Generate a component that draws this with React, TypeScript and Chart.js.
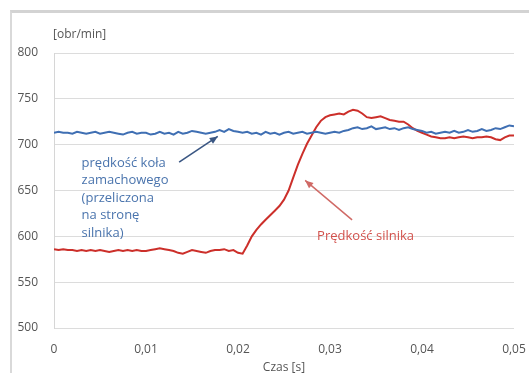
import React, { useEffect, useRef } from 'react';
import { Chart, registerables } from 'chart.js';
Chart.register(...registerables);

// time samples [s], every 0.0005 s
const times: number[] = [
  0, 0.0005, 0.001, 0.0015, 0.002, 0.0025, 0.003, 0.0035, 0.004, 0.0045,
  0.005, 0.0055, 0.006, 0.0065, 0.007, 0.0075, 0.008, 0.0085, 0.009, 0.0095,
  0.01, 0.0105, 0.011, 0.0115, 0.012, 0.0125, 0.013, 0.0135, 0.014, 0.0145,
  0.015, 0.0155, 0.016, 0.0165, 0.017, 0.0175, 0.018, 0.0185, 0.019, 0.0195,
  0.02, 0.0205, 0.021, 0.0215, 0.022, 0.0225, 0.023, 0.0235, 0.024, 0.0245,
  0.025, 0.0255, 0.026, 0.0265, 0.027, 0.0275, 0.028, 0.0285, 0.029, 0.0295,
  0.03, 0.0305, 0.031, 0.0315, 0.032, 0.0325, 0.033, 0.0335, 0.034, 0.0345,
  0.035, 0.0355, 0.036, 0.0365, 0.037, 0.0375, 0.038, 0.0385, 0.039, 0.0395,
  0.04, 0.0405, 0.041, 0.0415, 0.042, 0.0425, 0.043, 0.0435, 0.044, 0.0445,
  0.045, 0.0455, 0.046, 0.0465, 0.047, 0.0475, 0.048, 0.0485, 0.049, 0.0495,
  0.05,
];

// flywheel speed (converted to motor side) [obr/min]
const flywheelSpeed: number[] = [
  713, 714, 713, 713, 712, 714, 713, 712, 713, 714, 712, 713, 714, 713, 712, 711, 713, 714, 712, 713,
  713, 711, 712, 714, 712, 713, 711, 714, 712, 713, 715, 714, 713, 712, 713, 714, 716, 714, 717, 715,
  714, 713, 714, 712, 713, 711, 714, 712, 713, 711, 713, 714, 712, 713, 714, 712, 713, 714, 713, 712,
  713, 714, 713, 715, 716, 718, 719, 717, 718, 720, 717, 718, 719, 717, 718, 716, 718, 719, 717, 716,
  715, 713, 714, 712, 713, 714, 713, 715, 713, 714, 716, 714, 715, 717, 715, 716, 718, 717, 719, 721,
  720,
];

// motor speed [obr/min]
const motorSpeed: number[] = [
  586, 585, 586, 585, 585, 584, 585, 584, 585, 584, 585, 584, 583, 584, 585, 584, 585, 584, 585, 584,
  584, 585, 586, 587, 586, 585, 584, 582, 581, 583, 585, 584, 583, 582, 584, 585, 585, 586, 584, 585,
  582, 581, 590, 600, 607, 613, 618, 623, 628, 633, 640, 650, 664, 678, 690, 701, 710, 719, 726, 730,
  732, 733, 734, 733, 736, 738, 737, 734, 730, 729, 730, 731, 729, 727, 726, 725, 725, 722, 718, 715,
  713, 711, 709, 708, 707, 707, 708, 707, 708, 709, 708, 707, 708, 708, 709, 708, 706, 705, 708, 710,
  710,
];

const xTickValues: number[] = [0, 0.01, 0.02, 0.03, 0.04, 0.05];
const xTickLabels: string[] = ['0', '0,01', '0,02', '0,03', '0,04', '0,05'];
const yTickLabels: string[] = ['500', '550', '600', '650', '700', '750', '800'];

const flywheelLabel: string[] = ['prędkość koła', 'zamachowego', '(przeliczona', 'na stronę', 'silnika)'];
const motorLabel = 'Prędkość silnika';
const yUnit = '[obr/min]';
const xTitle = 'Czas [s]';

const BLUE = '#3f6fb3';
const RED = '#cc2f2a';
const FONT = '"Open Sans", "Liberation Sans", sans-serif';

function arrow(ctx: CanvasRenderingContext2D, x1: number, y1: number, x2: number, y2: number, color: string) {
  ctx.save();
  ctx.strokeStyle = color;
  ctx.fillStyle = color;
  ctx.lineWidth = 1.5;
  ctx.beginPath();
  ctx.moveTo(x1, y1);
  ctx.lineTo(x2, y2);
  ctx.stroke();
  const a = Math.atan2(y2 - y1, x2 - x1);
  const L = 8;
  const W = 3.5;
  ctx.beginPath();
  ctx.moveTo(x2, y2);
  ctx.lineTo(x2 - L * Math.cos(a) + W * Math.sin(a), y2 - L * Math.sin(a) - W * Math.cos(a));
  ctx.lineTo(x2 - L * Math.cos(a) - W * Math.sin(a), y2 - L * Math.sin(a) + W * Math.cos(a));
  ctx.closePath();
  ctx.fill();
  ctx.restore();
}

const annotations = {
  id: 'annotations',
  afterDatasetsDraw(chart: any) {
    const { ctx, chartArea, scales } = chart;
    const xs = scales.x;
    const ys = scales.y;
    ctx.save();
    ctx.textBaseline = 'middle';
    ctx.textAlign = 'left';
    ctx.font = `12px ${FONT}`;
    ctx.fillStyle = '#555';
    ctx.fillText(yUnit, chartArea.left - 1, chartArea.top - 18);
    ctx.textAlign = 'center';
    ctx.fillText(xTitle, (chartArea.left + chartArea.right) / 2, chartArea.bottom + 40);

    ctx.textAlign = 'left';
    ctx.font = `13px ${FONT}`;
    ctx.fillStyle = '#4a74ad';
    const bx = xs.getPixelForValue(0.003);
    const by = ys.getPixelForValue(680);
    flywheelLabel.forEach((s, i) => ctx.fillText(s, bx, by + i * 17.5));
    arrow(ctx, xs.getPixelForValue(0.0136), ys.getPixelForValue(681), xs.getPixelForValue(0.0178), ys.getPixelForValue(709), '#3a5683');

    ctx.fillStyle = '#d2514c';
    ctx.fillText(motorLabel, xs.getPixelForValue(0.0286), ys.getPixelForValue(600));
    arrow(ctx, xs.getPixelForValue(0.0324), ys.getPixelForValue(618), xs.getPixelForValue(0.0273), ys.getPixelForValue(661), '#d06a66');
    ctx.restore();
  },
};

export default function App() {
  const ref = useRef<HTMLCanvasElement | null>(null);
  useEffect(() => {
    if (!ref.current) return;
    const chart = new Chart(ref.current, {
      type: 'line',
      data: {
        datasets: [
          {
            label: 'flywheel',
            data: times.map((t, i) => ({ x: t, y: flywheelSpeed[i] })),
            borderColor: BLUE,
            borderWidth: 2,
            pointRadius: 0,
            tension: 0,
          },
          {
            label: 'motor',
            data: times.map((t, i) => ({ x: t, y: motorSpeed[i] })),
            borderColor: RED,
            borderWidth: 2,
            pointRadius: 0,
            tension: 0,
          },
        ],
      },
      options: {
        animation: false,
        responsive: true,
        maintainAspectRatio: false,
        layout: { padding: { top: 53, right: 15, left: 0, bottom: 0 } },
        plugins: { legend: { display: false }, tooltip: { enabled: false } },
        scales: {
          x: {
            type: 'linear',
            min: 0,
            max: 0.05,
            afterBuildTicks: (s: any) => {
              s.ticks = xTickValues.map((v) => ({ value: v }));
            },
            afterFit: (s: any) => {
              s.height = 45;
              s.paddingLeft = 0;
              s.paddingRight = 0;
            },
            ticks: {
              callback: (v: any) => {
                const i = xTickValues.findIndex((t) => Math.abs(t - Number(v)) < 1e-9);
                return i >= 0 ? xTickLabels[i] : '';
              },
              color: '#555',
              font: { family: FONT, size: 12 },
              padding: 14,
              maxRotation: 0,
              autoSkip: false,
            },
            grid: { display: false, drawTicks: false },
            border: { display: false },
          },
          y: {
            type: 'linear',
            min: 500,
            max: 800,
            afterBuildTicks: (s: any) => {
              s.ticks = yTickLabels.map((l) => ({ value: Number(l) }));
            },
            afterFit: (s: any) => {
              s.width = 54;
            },
            ticks: {
              callback: (v: any) => yTickLabels.find((l) => Number(l) === Number(v)) ?? '',
              color: '#555',
              font: { family: FONT, size: 12 },
              padding: 16,
            },
            grid: { color: '#dcdcdc', drawTicks: false, lineWidth: 1 },
            border: { display: true, color: '#d6d6d6' },
          },
        },
      },
      plugins: [annotations],
    });
    return () => chart.destroy();
  }, []);

  return (
    <div style={{ position: 'fixed', left: 0, top: 0, width: 529, height: 373, background: '#fff', overflow: 'hidden' }}>
      <div
        style={{
          position: 'absolute',
          left: 10,
          top: 10,
          width: 540,
          height: 400,
          borderTop: '3px solid #d3d3d3',
          borderLeft: '2px solid #d9d9d9',
          boxSizing: 'border-box',
        }}
      />
      <canvas ref={ref} style={{ position: 'absolute', left: 0, top: 0, width: 529, height: 373 }} />
    </div>
  );
}
